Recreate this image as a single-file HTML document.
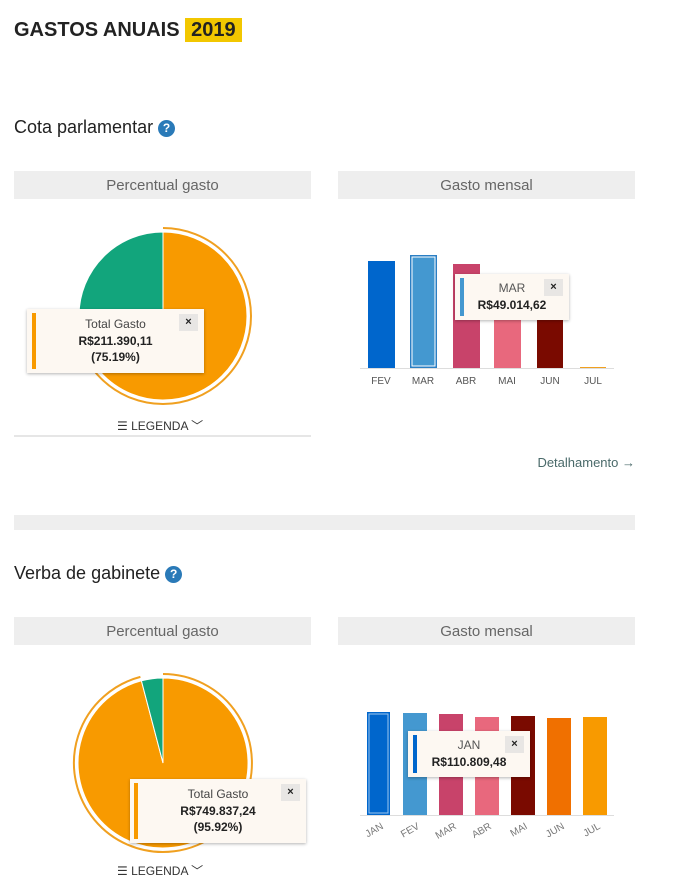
<!DOCTYPE html><html><head><meta charset="utf-8"><style>
body{margin:0;width:687px;height:895px;background:#fff;font-family:"Liberation Sans",sans-serif;position:relative;overflow:hidden;color:#222}
.a{position:absolute}
.hd{position:absolute;height:28px;background:#eee;color:#666;font-size:15px;text-align:center;line-height:30px}
.q{display:inline-block;width:17px;height:17px;border-radius:50%;background:#2a7ab8;color:#fff;font-size:12px;font-weight:bold;text-align:center;line-height:17px;vertical-align:1px}
.tt{position:absolute;background:#fdf8f2;box-shadow:0 1px 3px rgba(0,0,0,.3);font-size:12px;text-align:center}
.tt .x{position:absolute;right:6px;top:5px;width:19px;height:17px;background:#e8e6e4;font-size:11px;line-height:17px;font-weight:bold}
.leg{position:absolute;font-size:12px;color:#333}
</style></head><body>
<div class="a" style="left:14px;top:19px;font-size:20px;font-weight:bold;color:#222">GASTOS ANUAIS <span style="background:#f2c700;padding:1px 6px">2019</span></div>
<div class="a" style="left:14px;top:117px;font-size:18px">Cota parlamentar <span class="q">?</span></div>
<div class="hd" style="left:14px;top:171px;width:297px">Percentual gasto</div>
<div class="hd" style="left:338px;top:171px;width:297px">Gasto mensal</div>
<svg class="a" style="left:0;top:0" width="687" height="895">
<path d="M163,316 L163,232 A84,84 0 1,1 79,315 Z" fill="#f89a00" stroke="#fff" stroke-width="1"/>
<path d="M163,316 L79,315 A84,84 0 0,1 163,232 Z" fill="#12a57c" stroke="#fff" stroke-width="1"/>
<path d="M163,228 A88,88 0 1,1 75,316" fill="none" stroke="#f0a020" stroke-width="2"/>
<line x1="14" y1="436" x2="311" y2="436" stroke="#ccc"/>
<line x1="360" y1="368.5" x2="614" y2="368.5" stroke="#ddd"/>
<rect x="368" y="261" width="27" height="107" fill="#0066cc"/>
<rect x="410" y="255" width="27" height="113" fill="#2b7fc4"/>
<rect x="412" y="257" width="23" height="109" fill="#4498d0" stroke="#fff" stroke-width="1"/>
<rect x="453" y="264" width="27" height="104" fill="#c8436a"/>
<rect x="494" y="290" width="27" height="78" fill="#e8687d"/>
<rect x="537" y="300" width="26" height="68" fill="#7a0a00"/>
<rect x="580" y="367" width="26" height="1" fill="#f0a020"/>
<g font-size="10" fill="#555" text-anchor="middle">
<text x="381" y="384">FEV</text><text x="423" y="384">MAR</text><text x="466" y="384">ABR</text><text x="507" y="384">MAI</text><text x="550" y="384">JUN</text><text x="593" y="384">JUL</text></g>
<path d="M163,763 L163,678 A85,85 0 1,1 141.4,680.8 Z" fill="#f89a00" stroke="#fff" stroke-width="1"/>
<path d="M163,763 L141.4,680.8 A85,85 0 0,1 163,678 Z" fill="#12a57c" stroke="#fff" stroke-width="1"/>
<path d="M163,674 A89,89 0 1,1 140.4,676.9" fill="none" stroke="#f0a020" stroke-width="2"/>
<line x1="360" y1="815.5" x2="614" y2="815.5" stroke="#ddd"/>
<rect x="367" y="712" width="23" height="103" fill="#0066cc"/>
<rect x="369" y="714" width="19" height="99" fill="none" stroke="#9cc6ee" stroke-width="1"/>
<rect x="403" y="713" width="24" height="102" fill="#4498d0"/>
<rect x="439" y="714" width="24" height="101" fill="#c8436a"/>
<rect x="475" y="717" width="24" height="98" fill="#e8687d"/>
<rect x="511" y="716" width="24" height="99" fill="#7a0a00"/>
<rect x="547" y="718" width="24" height="97" fill="#f07000"/>
<rect x="583" y="717" width="24" height="98" fill="#f89a00"/>
<g font-size="10" fill="#777" text-anchor="end">
<text transform="translate(384,828) rotate(-30)">JAN</text><text transform="translate(420,828) rotate(-30)">FEV</text><text transform="translate(457,828) rotate(-30)">MAR</text><text transform="translate(492,828) rotate(-30)">ABR</text><text transform="translate(528,828) rotate(-30)">MAI</text><text transform="translate(565,828) rotate(-30)">JUN</text><text transform="translate(601,828) rotate(-30)">JUL</text></g>
</svg>
<div class="tt" style="left:27px;top:309px;width:177px;height:64px"><div class="a" style="left:5px;top:4px;width:4px;height:56px;background:#f89a00"></div><div style="padding-top:8px;color:#444">Total Gasto</div><div style="font-weight:bold;margin-top:3px">R$211.390,11</div><div style="font-weight:bold;margin-top:2px">(75.19%)</div><div class="x">×</div></div>
<div class="leg" style="left:117px;top:417px">☰ LEGENDA ﹀</div>
<div class="tt" style="left:455px;top:274px;width:114px;height:46px"><div class="a" style="left:5px;top:4px;width:4px;height:38px;background:#4498d0"></div><div style="padding-top:7px;color:#555">MAR</div><div style="font-weight:bold;margin-top:3px">R$49.014,62</div><div class="x">×</div></div>
<div class="a" style="right:52px;top:455px;font-size:13px;color:#4a6a6a">Detalhamento →</div>
<div class="a" style="left:14px;top:515px;width:621px;height:15px;background:#eee"></div>
<div class="a" style="left:14px;top:563px;font-size:18px">Verba de gabinete <span class="q">?</span></div>
<div class="hd" style="left:14px;top:617px;width:297px">Percentual gasto</div>
<div class="hd" style="left:338px;top:617px;width:297px">Gasto mensal</div>
<div class="tt" style="left:130px;top:779px;width:176px;height:64px"><div class="a" style="left:4px;top:4px;width:4px;height:56px;background:#f89a00"></div><div style="padding-top:8px;color:#444">Total Gasto</div><div style="font-weight:bold;margin-top:3px">R$749.837,24</div><div style="font-weight:bold;margin-top:2px">(95.92%)</div><div class="x">×</div></div>
<div class="leg" style="left:117px;top:862px">☰ LEGENDA ﹀</div>
<div class="tt" style="left:408px;top:731px;width:122px;height:46px"><div class="a" style="left:5px;top:4px;width:4px;height:38px;background:#0066cc"></div><div style="padding-top:7px;color:#555">JAN</div><div style="font-weight:bold;margin-top:3px">R$110.809,48</div><div class="x">×</div></div>
</body></html>
